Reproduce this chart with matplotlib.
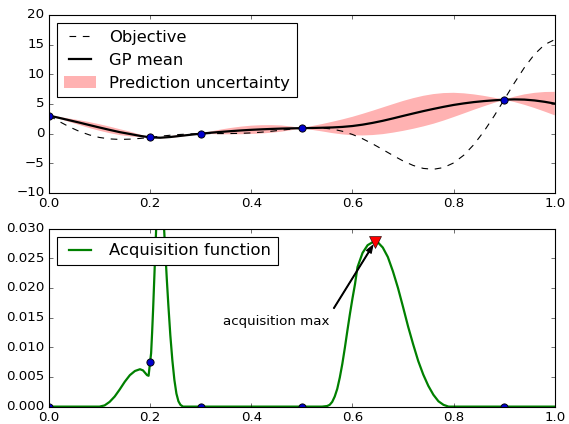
import numpy as np
import matplotlib; matplotlib.use("Agg")
import matplotlib.pyplot as plt

plt.style.use("classic")

# common grid for the top panel
x = np.linspace(0, 1, 51)
objective = [3.03, 2.05, 1.14, 0.37, -0.23, -0.66, -0.90, -0.99, -0.94, -0.82,
             -0.64, -0.45, -0.28, -0.15, -0.06, -0.02, 0.00, 0.00, 0.01, 0.04,
             0.11, 0.23, 0.39, 0.58, 0.76, 0.91, 0.98, 0.94, 0.76, 0.39,
             -0.15, -0.87, -1.74, -2.70, -3.68, -4.61, -5.37, -5.87, -6.02, -5.73,
             -4.95, -3.65, -1.86, 0.37, 2.94, 5.71, 8.51, 11.13, 13.36, 14.99, 15.83]
gp_mean = [3.03, 2.65, 2.25, 1.85, 1.43, 1.02, 0.62, 0.24, -0.07, -0.39,
           -0.64, -0.70, -0.58, -0.39, -0.20, -0.02, 0.14, 0.28, 0.41, 0.53,
           0.63, 0.71, 0.78, 0.84, 0.88, 0.91, 0.94, 0.98, 1.03, 1.12,
           1.27, 1.50, 1.80, 2.15, 2.55, 2.97, 3.38, 3.78, 4.15, 4.50,
           4.82, 5.08, 5.30, 5.47, 5.60, 5.71, 5.76, 5.72, 5.58, 5.35, 5.05]
gp_band = [0.0, 0.15, 0.28, 0.40, 0.50, 0.55, 0.55, 0.50, 0.40, 0.23,
           0.0, 0.10, 0.16, 0.16, 0.10, 0.0, 0.22, 0.40, 0.54, 0.64,
           0.70, 0.70, 0.64, 0.52, 0.30, 0.0, 0.32, 0.62, 0.95, 1.26,
           1.55, 1.82, 2.05, 2.25, 2.40, 2.52, 2.58, 2.58, 2.50, 2.32,
           2.05, 1.70, 1.30, 0.88, 0.44, 0.0, 0.45, 0.88, 1.28, 1.65, 1.98]

sample_x = [0.0, 0.2, 0.3, 0.5, 0.9]
sample_y = [3.03, -0.64, -0.02, 0.91, 5.71]
sample_acq = [0.0, 0.0075, 0.0, 0.0, 0.0]

acq_x = [0.0, 0.10, 0.11, 0.12, 0.13, 0.14, 0.15, 0.16, 0.17, 0.18, 0.186, 0.19,
         0.194, 0.197, 0.2, 0.202, 0.204, 0.206, 0.208, 0.21, 0.212, 0.215,
         0.218, 0.221, 0.224, 0.227, 0.23, 0.233, 0.236, 0.24, 0.244, 0.248,
         0.252, 0.256, 0.26, 0.265, 0.54, 0.55, 0.555, 0.56, 0.565, 0.57, 0.575,
         0.58, 0.585, 0.59, 0.595, 0.60, 0.605, 0.61, 0.62, 0.63, 0.64, 0.645,
         0.65, 0.66, 0.67, 0.68, 0.69, 0.70, 0.71, 0.72, 0.73, 0.74, 0.75, 0.76,
         0.77, 0.78, 0.79, 1.0]
acq_y = [0.0, 0.0, 0.0002, 0.0008, 0.0017, 0.0029, 0.0042, 0.0053, 0.0060, 0.0063,
         0.0061, 0.0057, 0.0053, 0.0052, 0.0075, 0.0090, 0.0125, 0.0165, 0.0210,
         0.0255, 0.0300, 0.0340, 0.0360, 0.0362, 0.0350, 0.0310, 0.0262, 0.0215,
         0.0172, 0.0120, 0.0078, 0.0045, 0.0022, 0.0009, 0.0003, 0.0, 0.0,
         0.0001, 0.0003, 0.0008, 0.0017, 0.0030, 0.0049, 0.0072, 0.0099, 0.0128,
         0.0156, 0.0182, 0.0206, 0.0235, 0.0259, 0.0272, 0.0277, 0.0278, 0.0277,
         0.0268, 0.0252, 0.0228, 0.0200, 0.0168, 0.0135, 0.0105, 0.0077, 0.0054,
         0.0035, 0.0020, 0.0009, 0.0003, 0.0, 0.0]
acq_max_x = 0.645
acq_max_y = 0.0278

mean = np.array(gp_mean)
band = np.array(gp_band)

fig = plt.figure(figsize=(569 / 80, 424 / 80), dpi=80, facecolor="white")
fig.subplots_adjust(left=0.086, right=0.975, top=0.965, bottom=0.041, hspace=0.2)

ax1 = fig.add_subplot(2, 1, 1)
ax1.plot(x, objective, "k--", label="Objective")
ax1.plot(x, mean, "k-", lw=2, label="GP mean")
ax1.fill_between(x, mean - band, mean + band, facecolor="r", edgecolor="none",
                 alpha=0.3, label="Prediction uncertainty")
ax1.plot(sample_x, sample_y, "o", color="#0000cc", mec="k", mew=0.8, ms=6.5)
ax1.set_xlim(0, 1)
ax1.set_ylim(-10, 20)
ax1.legend(loc="upper left", fontsize=14.7)

ax2 = fig.add_subplot(2, 1, 2)
ax2.plot(acq_x, acq_y, "g-", lw=2, label="Acquisition function")
ax2.plot(sample_x, sample_acq, "o", color="#0000cc", mec="k", mew=0.8, ms=6.5)
ax2.plot([acq_max_x], [acq_max_y], "rv", mec="k", ms=11)
ax2.annotate("acquisition max", xy=(acq_max_x, acq_max_y), xytext=(0.345, 0.0138),
             arrowprops=dict(facecolor="black", shrink=0.05, width=0.8,
                             headwidth=5, headlength=7))
ax2.set_xlim(0, 1)
ax2.set_ylim(0, 0.03)
ax2.legend(loc="upper left", fontsize=14.7)

fig.savefig("out.png", dpi=80, facecolor="white")
